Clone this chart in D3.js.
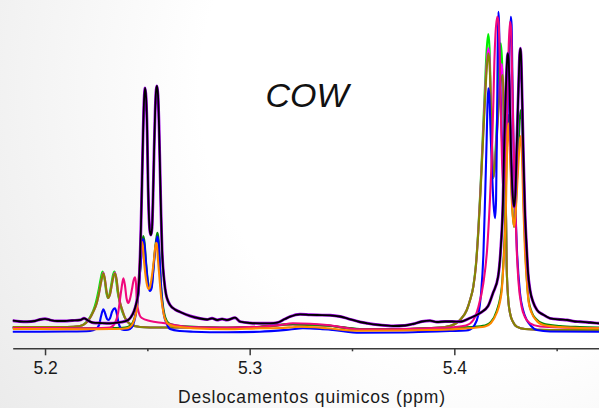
<!DOCTYPE html>
<html>
<head>
<meta charset="utf-8">
<script src="https://cdn.jsdelivr.net/npm/d3@7"></script>
<style>
  html, body { margin: 0; padding: 0; background: #ffffff; }
  svg { display: block; }
</style>
</head>
<body>
<svg id="chart" width="599" height="408"></svg>
<script>
// 1H NMR spectra, olefinic / glycerol region. Each point: [chemical shift (ppm), intensity (a.u.)]
const black = [[5.1844,11.3],[5.1878,10.5],[5.1912,10.3],[5.1951,11],[5.1976,12.5],[5.2000,13.2],[5.2024,12],[5.2059,11],[5.2098,11],[5.2132,11.5],[5.2171,12],[5.2191,13.7],[5.2210,11.5],[5.2235,9.3],[5.2269,9],[5.2318,8.7],[5.2357,9.5],[5.2386,10.5],[5.2406,12],[5.2420,15],[5.2435,21],[5.2445,28],[5.2455,39],[5.2464,72],[5.2469,107],[5.2474,152],[5.2479,197],[5.2484,232],[5.2489,244],[5.2494,234],[5.2499,202],[5.2503,152],[5.2508,114],[5.2513,100],[5.2518,97],[5.2523,104],[5.2528,137],[5.2533,182],[5.2538,220],[5.2543,242],[5.2547,246],[5.2552,237],[5.2557,207],[5.2562,162],[5.2567,117],[5.2572,82],[5.2582,52],[5.2591,38],[5.2601,31],[5.2611,27],[5.2635,22.5],[5.2660,20],[5.2709,16],[5.2758,13.5],[5.2792,12.5],[5.2816,13.7],[5.2841,12],[5.2865,13],[5.2889,12],[5.2929,14.3],[5.2953,10.3],[5.3001,9],[5.3050,8.7],[5.3099,8.7],[5.3134,9.3],[5.3172,13],[5.3197,15.3],[5.3246,17.7],[5.3295,17.2],[5.3329,17],[5.3393,16.7],[5.3441,15.5],[5.3476,13.7],[5.3539,10],[5.3574,8.7],[5.3637,7],[5.3701,6],[5.3759,6.5],[5.3798,8],[5.3842,10.5],[5.3881,11.3],[5.3915,10],[5.3955,10.5],[5.3989,10.5],[5.4028,10.3],[5.4077,14],[5.4126,19],[5.4165,26],[5.4189,39],[5.4214,55.3],[5.4228,87],[5.4238,132],[5.4243,182],[5.4248,217],[5.4253,249],[5.4258,272],[5.4261,278.7],[5.4265,274],[5.4270,242],[5.4277,182],[5.4284,142],[5.4292,125.3],[5.4299,142],[5.4306,192],[5.4314,247],[5.4319,277],[5.4323,283.7],[5.4326,277],[5.4331,237],[5.4337,182],[5.4345,122],[5.4354,82],[5.4360,60],[5.4370,42],[5.4385,30],[5.4404,22],[5.4433,17.5],[5.4468,13.7],[5.4516,12.5],[5.4551,12],[5.4590,10.5],[5.4614,10.3],[5.4663,9.5],[5.4707,8.7]];

const orange = [[5.1844,3],[5.1976,3],[5.2171,2.7],[5.2318,3],[5.2391,3.5],[5.2415,5],[5.2430,9],[5.2440,15],[5.2450,27],[5.2455,42],[5.2459,57],[5.2464,74],[5.2469,87],[5.2473,90.3],[5.2477,87],[5.2484,70],[5.2494,52],[5.2503,44],[5.2508,43],[5.2513,45],[5.2523,57],[5.2533,74],[5.2538,84],[5.2543,89.3],[5.2547,86],[5.2552,72],[5.2560,52],[5.2567,36],[5.2574,25],[5.2582,16],[5.2595,9.5],[5.2611,7],[5.2626,6],[5.2660,5],[5.2723,3.7],[5.2889,2.7],[5.3050,3.7],[5.3148,4],[5.3246,5.3],[5.3319,4.7],[5.3378,3.7],[5.3539,1.3],[5.3735,1.5],[5.3867,2],[5.3979,2.5],[5.4052,3.5],[5.4111,4.5],[5.4150,5.5],[5.4179,9],[5.4207,19],[5.4223,30],[5.4232,42],[5.4238,60],[5.4243,77],[5.4248,99],[5.4253,132],[5.4256,165],[5.4260,197],[5.4264,208.7],[5.4268,199],[5.4275,162],[5.4282,127],[5.4292,105.3],[5.4299,117],[5.4306,142],[5.4314,172],[5.4321,192],[5.4326,196],[5.4331,174],[5.4337,127],[5.4345,82],[5.4354,52],[5.4363,30],[5.4378,19],[5.4399,12],[5.4435,7],[5.4516,5],[5.4614,4],[5.4707,3.7]];

const darkgreen = [[5.1844,4],[5.1976,4],[5.2171,3.7],[5.2318,4],[5.2391,4.5],[5.2415,6],[5.2430,10],[5.2440,16],[5.2450,27],[5.2459,47],[5.2467,67],[5.2474,87],[5.2480,96],[5.2486,90],[5.2494,69],[5.2503,50],[5.2513,43],[5.2521,46],[5.2528,60],[5.2535,77],[5.2543,92],[5.2549,99.3],[5.2555,92],[5.2560,74],[5.2567,47],[5.2574,30],[5.2582,19],[5.2595,11],[5.2611,8],[5.2660,6],[5.2889,4.5],[5.3050,5.3],[5.3211,8],[5.3295,7.5],[5.3378,6.5],[5.3539,3],[5.3701,2.7],[5.3867,3.7],[5.3979,4],[5.4077,5],[5.4150,6.5],[5.4179,10],[5.4207,21],[5.4232,45],[5.4240,70],[5.4248,107],[5.4254,162],[5.4259,202],[5.4264,217],[5.4269,207],[5.4276,167],[5.4283,127],[5.4292,105],[5.4299,119],[5.4306,152],[5.4315,192],[5.4321,216],[5.4326,222],[5.4331,212],[5.4337,147],[5.4345,92],[5.4354,54],[5.4363,32],[5.4378,20],[5.4399,13],[5.4433,8.5],[5.4516,6],[5.4614,5],[5.4707,4.5]];

const blue = [[5.1844,0.3],[5.1976,0.3],[5.2122,0.5],[5.2220,1],[5.2249,3],[5.2264,7],[5.2274,16],[5.2285,22.7],[5.2293,19],[5.2303,13],[5.2309,12],[5.2318,14],[5.2327,20],[5.2342,23.7],[5.2350,19],[5.2358,10.3],[5.2366,5],[5.2376,2.5],[5.2396,2],[5.2415,3],[5.2430,7],[5.2440,14],[5.2450,26],[5.2459,45],[5.2467,67],[5.2474,85],[5.2480,93],[5.2486,87],[5.2494,67],[5.2503,48],[5.2513,41],[5.2521,44],[5.2528,58],[5.2535,75],[5.2543,89],[5.2549,95.5],[5.2555,88],[5.2560,70],[5.2567,44],[5.2574,27],[5.2582,16],[5.2595,8],[5.2611,3],[5.2660,1],[5.2723,0.3],[5.2889,-0.3],[5.3050,0.3],[5.3197,2.5],[5.3260,3.7],[5.3344,3],[5.3407,2],[5.3539,-0.7],[5.3735,-0.5],[5.3867,0.3],[5.3979,1],[5.4057,1.5],[5.4077,2.5],[5.4096,6],[5.4117,17],[5.4130,37],[5.4142,77],[5.4150,132],[5.4158,192],[5.4162,227],[5.4166,243.7],[5.4171,237],[5.4177,202],[5.4184,162],[5.4192,127],[5.4199,113.7],[5.4204,132],[5.4209,212],[5.4212,282],[5.4215,320.3],[5.4218,312],[5.4223,262],[5.4231,202],[5.4238,172],[5.4248,162],[5.4255,182],[5.4262,227],[5.4270,282],[5.4276,315.3],[5.4280,307],[5.4284,252],[5.4289,192],[5.4297,132],[5.4306,82],[5.4321,39],[5.4336,22],[5.4354,12],[5.4375,6],[5.4403,2],[5.4468,0.5],[5.4707,0.3]];

const pink = [[5.1844,4],[5.1976,4],[5.2171,3.7],[5.2269,4],[5.2318,4.5],[5.2342,9],[5.2357,19],[5.2366,32],[5.2374,44],[5.2383,53.7],[5.2391,46],[5.2398,34],[5.2407,29],[5.2415,33],[5.2425,43],[5.2432,51],[5.2440,54.7],[5.2445,47],[5.2448,32],[5.2455,22],[5.2462,17],[5.2473,14],[5.2513,11],[5.2577,9],[5.2709,5],[5.2889,4.5],[5.3050,5.3],[5.3148,7],[5.3211,8.7],[5.3295,8.2],[5.3378,7],[5.3539,2.7],[5.3701,2.7],[5.3867,3.7],[5.3979,4.5],[5.4057,6.5],[5.4093,12],[5.4116,24],[5.4142,49],[5.4160,82],[5.4174,132],[5.4184,182],[5.4191,232],[5.4196,272],[5.4201,297],[5.4210,315.3],[5.4216,310],[5.4221,282],[5.4226,232],[5.4233,172],[5.4239,142],[5.4245,147],[5.4253,182],[5.4260,242],[5.4266,287],[5.4272,310.3],[5.4277,304],[5.4282,262],[5.4288,199],[5.4297,132],[5.4305,82],[5.4314,49],[5.4329,25.3],[5.4345,15],[5.4370,8.7],[5.4419,5.5],[5.4516,4.5],[5.4707,4]];

const olive = [[5.1844,5],[5.1976,5],[5.2108,5],[5.2171,6],[5.2200,9],[5.2220,14],[5.2235,20],[5.2253,29],[5.2264,39],[5.2274,50],[5.2285,58.7],[5.2293,52],[5.2301,40],[5.2309,34],[5.2318,38],[5.2327,48],[5.2335,56],[5.2342,58.7],[5.2350,52],[5.2357,40],[5.2366,30],[5.2379,21],[5.2391,14],[5.2415,8],[5.2464,5],[5.2562,4.5],[5.2723,4.5],[5.2889,4],[5.3050,5],[5.3211,7.5],[5.3295,7],[5.3378,6.5],[5.3539,2.7],[5.3701,2.7],[5.3867,3.7],[5.3955,5],[5.4003,8],[5.4028,12],[5.4061,22],[5.4077,32],[5.4093,45.3],[5.4106,67],[5.4117,99],[5.4126,132],[5.4134,165],[5.4142,199],[5.4150,232],[5.4158,262],[5.4166,278.7],[5.4172,270],[5.4179,222],[5.4186,172],[5.4191,155.3],[5.4196,162],[5.4204,182],[5.4214,217],[5.4223,244],[5.4237,257],[5.4242,222],[5.4248,165],[5.4253,112],[5.4256,65],[5.4262,37],[5.4272,19],[5.4287,10],[5.4305,5.3],[5.4345,3],[5.4468,2],[5.4707,2]];

const lime = [[5.1844,5],[5.1976,5],[5.2108,5],[5.2171,6],[5.2200,9.5],[5.2220,15],[5.2235,21],[5.2249,30],[5.2261,41],[5.2271,52],[5.2281,60.5],[5.2291,53],[5.2299,40],[5.2307,34],[5.2315,38],[5.2325,49],[5.2332,57],[5.2340,60.5],[5.2347,53],[5.2354,41],[5.2364,30.5],[5.2376,21],[5.2391,14],[5.2415,8],[5.2464,5],[5.2562,4.5],[5.2723,4.5],[5.2889,4],[5.3050,5],[5.3211,8],[5.3295,7.5],[5.3378,6.5],[5.3539,2.7],[5.3701,2.7],[5.3867,3.7],[5.3955,5],[5.4003,8],[5.4028,12],[5.4061,22],[5.4077,32],[5.4093,46],[5.4106,69],[5.4117,102],[5.4126,137],[5.4134,172],[5.4142,210],[5.4150,247],[5.4158,282],[5.4166,298],[5.4172,284],[5.4179,227],[5.4186,172],[5.4191,154],[5.4196,164],[5.4204,192],[5.4214,237],[5.4221,274],[5.4227,288.7],[5.4233,272],[5.4240,222],[5.4248,162],[5.4253,110],[5.4256,65],[5.4262,37],[5.4272,19],[5.4287,10],[5.4305,5.3],[5.4345,3],[5.4468,2],[5.4707,2]];

const magenta = [[5.1844,5],[5.1976,5],[5.2108,5],[5.2171,6],[5.2200,9],[5.2220,14],[5.2235,20],[5.2253,29],[5.2264,39],[5.2274,50],[5.2285,59.5],[5.2293,52],[5.2301,40],[5.2309,34],[5.2318,38],[5.2327,48],[5.2335,56],[5.2342,59.5],[5.2350,52],[5.2357,40],[5.2366,30],[5.2379,21],[5.2391,14],[5.2415,8],[5.2464,5],[5.2562,4.5],[5.2723,4.5],[5.2889,4],[5.3050,5],[5.3211,7.5],[5.3295,7],[5.3378,6.5],[5.3539,2.7],[5.3701,2.7],[5.3867,3.7],[5.3955,5],[5.4003,8],[5.4028,12],[5.4061,22],[5.4077,32],[5.4093,45.3],[5.4106,67],[5.4117,100],[5.4126,134],[5.4134,168],[5.4142,203],[5.4150,238],[5.4158,268],[5.4166,284],[5.4172,274],[5.4179,224],[5.4186,172],[5.4191,155],[5.4196,162],[5.4204,184],[5.4214,222],[5.4223,252],[5.4233,268],[5.4240,230],[5.4248,165],[5.4253,112],[5.4256,65],[5.4262,37],[5.4272,19],[5.4287,10],[5.4305,5.3],[5.4345,3],[5.4468,2],[5.4707,2]];

// Axis ticks and labels
const majorTicks = [5.2, 5.3, 5.4];
const minorTicks = [5.25, 5.35, 5.45];
const axisTitle = "Deslocamentos quimicos (ppm)";
const sampleLabel = "COW";

// Drawing order, bottom to top
const spectra = [
  { data: lime,      color: "#00ee00", width: 2.1 },
  { data: magenta,   color: "#ff00ff", width: 2.1 },
  { data: olive,     color: "#868600", width: 2.1 },
  { data: darkgreen, color: "#008a00", width: 2.1 },
  { data: blue,      color: "#0000ff", width: 2.1 },
  { data: pink,      color: "#f0077c", width: 2.1 },
  { data: orange,    color: "#ff8800", width: 2.1 },
  { data: black,     color: "#9a00e0", width: 2.9 },
  { data: black,     color: "#000000", width: 1.8 }
];

const W = 599, H = 408;
const svg = d3.select("#chart");

const defs = svg.append("defs");
const bg = defs.append("radialGradient")
  .attr("id", "bg").attr("gradientUnits", "userSpaceOnUse")
  .attr("cx", 470).attr("cy", 90).attr("r", 600);
bg.append("stop").attr("offset", 0.45).attr("stop-color", "#ffffff");
bg.append("stop").attr("offset", 1).attr("stop-color", "#e9e9e9");
svg.append("rect").attr("width", W).attr("height", H).attr("fill", "url(#bg)");

const left = 12.7, right = 599, axisY = 348.3;
const x = d3.scaleLinear().domain([5.1842, 5.4707]).range([left, right]);
const y = d3.scaleLinear().domain([0, 322]).range([332, 10]);

defs.append("clipPath").attr("id", "plot")
  .append("rect").attr("x", left).attr("y", 0).attr("width", right - left).attr("height", axisY);

const line = d3.line()
  .x(d => x(d[0]))
  .y(d => y(d[1]))
  .curve(d3.curveMonotoneX);

const gLines = svg.append("g").attr("clip-path", "url(#plot)");
spectra.forEach(s => {
  gLines.append("path")
    .attr("d", line(s.data))
    .attr("fill", "none")
    .attr("stroke", s.color)
    .attr("stroke-width", s.width)
    .attr("stroke-linejoin", "round")
    .attr("stroke-linecap", "round");
});

// x axis
const gAxis = svg.append("g").attr("transform", `translate(0,${axisY})`);
gAxis.call(d3.axisBottom(x)
  .tickValues(majorTicks)
  .tickSize(7)
  .tickSizeOuter(0)
  .tickPadding(6)
  .tickFormat(d3.format(".1f")));
const gMinor = svg.append("g").attr("transform", `translate(0,${axisY})`);
gMinor.call(d3.axisBottom(x).tickValues(minorTicks).tickSize(3).tickFormat(""));
gMinor.select(".domain").remove();

svg.selectAll(".domain").attr("stroke", "#3a3a3a").attr("stroke-width", 1.6);
svg.selectAll(".tick line").attr("stroke", "#3a3a3a").attr("stroke-width", 1.5);
gAxis.selectAll(".tick text")
  .attr("fill", "#1a1a1a")
  .style("font-family", "Arial, 'Liberation Sans', sans-serif")
  .style("font-size", "17.5px");

svg.append("text")
  .attr("x", 311.5).attr("y", 403)
  .attr("text-anchor", "middle")
  .attr("textLength", 267).attr("lengthAdjust", "spacing")
  .style("font-family", "Arial, 'Liberation Sans', sans-serif")
  .style("font-size", "17.5px")
  .attr("fill", "#1a1a1a")
  .text(axisTitle);

svg.append("text")
  .attr("x", 307).attr("y", 107)
  .attr("text-anchor", "middle")
  .style("font-family", "Arial, 'Liberation Sans', sans-serif")
  .style("font-style", "italic")
  .style("font-size", "34px")
  .attr("fill", "#111111")
  .text(sampleLabel);
</script>
</body>
</html>
